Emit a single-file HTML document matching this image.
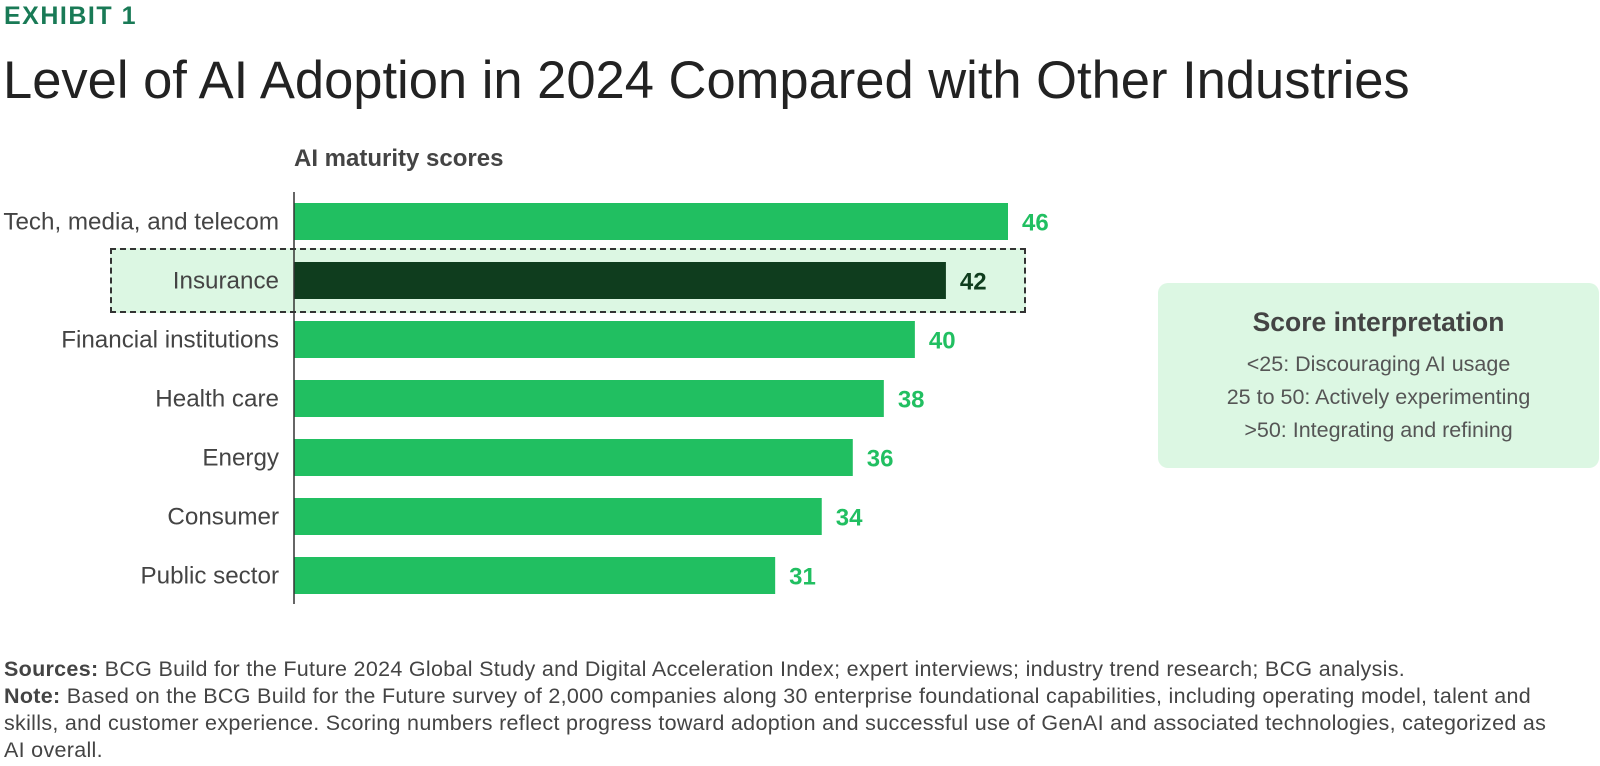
<!DOCTYPE html>
<html><head><meta charset="utf-8"><style>
body{margin:0;width:1600px;height:766px;background:#fff;font-family:"Liberation Sans",sans-serif;position:relative;overflow:hidden}
.a{position:absolute}
</style></head><body>
<div class="a" style="left:4px;top:2px;font-size:25px;font-weight:bold;color:#197a56;letter-spacing:1.5px">EXHIBIT 1</div>
<div class="a" style="left:3px;top:50px;font-size:52.5px;color:#222">Level of AI Adoption in 2024 Compared with Other Industries</div>
<div class="a" style="left:294px;top:145px;font-size:24px;font-weight:bold;color:#444">AI maturity scores</div>
<div class="a" style="left:110px;top:248px;width:916px;height:65px;background:#dcf7e3;border:2px dashed #333;box-sizing:border-box"></div>
<svg class="a" style="left:0;top:0" width="1600" height="766" id="chart"></svg>
<div class="a" style="left:1158px;top:283px;width:441px;height:185px;background:#dcf7e3;border-radius:10px;text-align:center;color:#555">
<div style="margin-top:24px;font-size:26.5px;font-weight:bold;color:#444">Score interpretation</div>
<div style="margin-top:10px;font-size:21.5px;line-height:33px">&lt;25: Discouraging AI usage</div>
<div style="font-size:21.5px;line-height:33px">25 to 50: Actively experimenting</div>
<div style="font-size:21.5px;line-height:33px">&gt;50: Integrating and refining</div>
</div>
<div class="a" style="left:4px;top:656px;width:1560px;font-size:21.5px;line-height:27px;color:#444;letter-spacing:0.3px">
<b>Sources:</b> BCG Build for the Future 2024 Global Study and Digital Acceleration Index; expert interviews; industry trend research; BCG analysis.<br>
<b>Note:</b> Based on the BCG Build for the Future survey of 2,000 companies along 30 enterprise foundational capabilities, including operating model, talent and skills, and customer experience. Scoring numbers reflect progress toward adoption and successful use of GenAI and associated technologies, categorized as AI overall.</div>
<script>
const categories=["Tech, media, and telecom","Insurance","Financial institutions","Health care","Energy","Consumer","Public sector"];
const values=[46,42,40,38,36,34,31];
const highlight=[false,true,false,false,false,false,false];
const svg=document.getElementById('chart');const NS="http://www.w3.org/2000/svg";
const x0=294,scale=714/46,top0=203,step=59,bh=37;
const xs=v=>x0+v*scale, ys=i=>top0+i*step;
function mk(t,a){const e=document.createElementNS(NS,t);for(const k in a)e.setAttribute(k,a[k]);svg.appendChild(e);return e;}
categories.forEach((c,i)=>{
 const r=mk('rect',{x:x0,y:ys(i),width:xs(values[i])-x0,height:bh,fill:highlight[i]?'#0f3d1e':'#21bf61'});
 
 
 const l=mk('text',{x:279,y:ys(i)+bh/2+8,'text-anchor':'end','font-size':24.2,fill:'#444','font-family':'Liberation Sans, sans-serif'});l.textContent=c;
 
 
 const v=mk('text',{x:xs(values[i])+14,y:ys(i)+bh/2+9,'font-size':24,'font-weight':'bold',fill:highlight[i]?'#0f3d1e':'#21bf61','font-family':'Liberation Sans, sans-serif'});v.textContent=values[i];
 
 
});
const ax=mk('line',{x1:x0,x2:x0,y1:192,y2:604,stroke:'#333','stroke-width':1.5});


</script>
</body></html>
